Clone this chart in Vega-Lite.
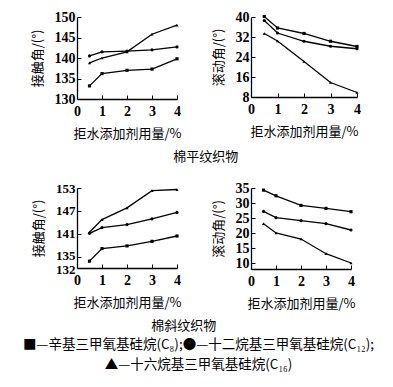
{
  "$schema": "https://vega.github.io/schema/vega-lite/v6.json",
  "padding": {"left": 12, "top": 10, "right": 5, "bottom": 5},
  "datasets": {
    "d": [
      {"p": "a", "s": "C8", "x": 0.5, "y": 133.2}, {"p": "a", "s": "C8", "x": 1, "y": 136.2}, {"p": "a", "s": "C8", "x": 2, "y": 137.0}, {"p": "a", "s": "C8", "x": 3, "y": 137.3}, {"p": "a", "s": "C8", "x": 4, "y": 139.8},
      {"p": "a", "s": "C12", "x": 0.5, "y": 140.5}, {"p": "a", "s": "C12", "x": 1, "y": 141.5}, {"p": "a", "s": "C12", "x": 2, "y": 141.7}, {"p": "a", "s": "C12", "x": 3, "y": 142.0}, {"p": "a", "s": "C12", "x": 4, "y": 142.7},
      {"p": "a", "s": "C16", "x": 0.5, "y": 138.8}, {"p": "a", "s": "C16", "x": 1, "y": 140.0}, {"p": "a", "s": "C16", "x": 2, "y": 141.5}, {"p": "a", "s": "C16", "x": 3, "y": 145.8}, {"p": "a", "s": "C16", "x": 4, "y": 148.0},
      {"p": "b", "s": "C8", "x": 0.5, "y": 40.2}, {"p": "b", "s": "C8", "x": 1, "y": 35.6}, {"p": "b", "s": "C8", "x": 2, "y": 33.4}, {"p": "b", "s": "C8", "x": 3, "y": 30.3}, {"p": "b", "s": "C8", "x": 4, "y": 28.2},
      {"p": "b", "s": "C12", "x": 0.5, "y": 38.6}, {"p": "b", "s": "C12", "x": 1, "y": 33.6}, {"p": "b", "s": "C12", "x": 2, "y": 30.3}, {"p": "b", "s": "C12", "x": 3, "y": 28.3}, {"p": "b", "s": "C12", "x": 4, "y": 27.3},
      {"p": "b", "s": "C16", "x": 0.5, "y": 33.4}, {"p": "b", "s": "C16", "x": 1, "y": 30.4}, {"p": "b", "s": "C16", "x": 2, "y": 22.2}, {"p": "b", "s": "C16", "x": 3, "y": 13.8}, {"p": "b", "s": "C16", "x": 4, "y": 9.8},
      {"p": "c", "s": "C8", "x": 0.5, "y": 133.8}, {"p": "c", "s": "C8", "x": 1, "y": 137.1}, {"p": "c", "s": "C8", "x": 2, "y": 137.8}, {"p": "c", "s": "C8", "x": 3, "y": 139.0}, {"p": "c", "s": "C8", "x": 4, "y": 140.4},
      {"p": "c", "s": "C12", "x": 0.5, "y": 141.1}, {"p": "c", "s": "C12", "x": 1, "y": 142.6}, {"p": "c", "s": "C12", "x": 2, "y": 143.4}, {"p": "c", "s": "C12", "x": 3, "y": 144.9}, {"p": "c", "s": "C12", "x": 4, "y": 146.6},
      {"p": "c", "s": "C16", "x": 0.5, "y": 141.4}, {"p": "c", "s": "C16", "x": 1, "y": 144.7}, {"p": "c", "s": "C16", "x": 2, "y": 147.8}, {"p": "c", "s": "C16", "x": 3, "y": 152.3}, {"p": "c", "s": "C16", "x": 4, "y": 152.6},
      {"p": "d", "s": "C8", "x": 0.5, "y": 34.3}, {"p": "d", "s": "C8", "x": 1, "y": 32.4}, {"p": "d", "s": "C8", "x": 2, "y": 29.2}, {"p": "d", "s": "C8", "x": 3, "y": 28.2}, {"p": "d", "s": "C8", "x": 4, "y": 27.1},
      {"p": "d", "s": "C12", "x": 0.5, "y": 27.2}, {"p": "d", "s": "C12", "x": 1, "y": 25.1}, {"p": "d", "s": "C12", "x": 2, "y": 24.1}, {"p": "d", "s": "C12", "x": 3, "y": 23.1}, {"p": "d", "s": "C12", "x": 4, "y": 21.0},
      {"p": "d", "s": "C16", "x": 0.5, "y": 23.1}, {"p": "d", "s": "C16", "x": 1, "y": 20.0}, {"p": "d", "s": "C16", "x": 2, "y": 18.0}, {"p": "d", "s": "C16", "x": 3, "y": 13.1}, {"p": "d", "s": "C16", "x": 4, "y": 10.0}
    ]
  },
  "title": {
    "text": ["■—辛基三甲氧基硅烷(C₈);●—十二烷基三甲氧基硅烷(C₁₂);", "▲—十六烷基三甲氧基硅烷(C₁₆)"],
    "orient": "bottom",
    "anchor": "middle",
    "font": "Noto Sans CJK SC",
    "fontSize": 13.5,
    "fontWeight": "normal",
    "color": "black",
    "lineHeight": 20,
    "offset": 5,
    "dx": 12
  },
  "spacing": 17,
  "vconcat": [
    {
      "title": {"text": "棉平纹织物", "orient": "bottom", "anchor": "middle", "font": "Noto Sans CJK SC", "fontSize": 13, "fontWeight": "normal", "color": "black", "offset": 11, "dx": 10},
      "spacing": 30,
      "resolve": {"scale": {"y": "independent"}},
      "hconcat": [
        {
          "width": 100, "height": 82,
          "data": {"name": "d"},
          "transform": [{"filter": "datum.p == 'a'"}],
          "encoding": {
            "x": {"field": "x", "type": "quantitative", "scale": {"domain": [0, 4], "nice": false}, "axis": {"values": [0, 1, 2, 3, 4], "title": "拒水添加剂用量/%"}},
            "y": {"field": "y", "type": "quantitative", "scale": {"domain": [130, 150], "nice": false, "zero": false}, "axis": {"values": [130, 135, 140, 145, 150], "title": "接触角/(°)"}}
          },
          "layer": [
            {"mark": {"type": "line", "color": "black", "strokeWidth": 1.3}, "encoding": {"detail": {"field": "s"}}},
            {"mark": {"type": "point", "filled": true, "color": "black", "size": 10, "opacity": 1}, "encoding": {"shape": {"field": "s", "legend": null, "scale": {"domain": ["C8", "C12", "C16"], "range": ["square", "circle", "triangle-up"]}}}}
          ]
        },
        {
          "width": 106, "height": 80,
          "data": {"name": "d"},
          "transform": [{"filter": "datum.p == 'b'"}],
          "encoding": {
            "x": {"field": "x", "type": "quantitative", "scale": {"domain": [0, 4], "nice": false}, "axis": {"values": [0, 1, 2, 3, 4], "title": "拒水添加剂用量/%"}},
            "y": {"field": "y", "type": "quantitative", "scale": {"domain": [8, 40], "nice": false, "zero": false}, "axis": {"values": [8, 16, 24, 32, 40], "title": "滚动角/(°)"}}
          },
          "layer": [
            {"mark": {"type": "line", "color": "black", "strokeWidth": 1.3}, "encoding": {"detail": {"field": "s"}}},
            {"mark": {"type": "point", "filled": true, "color": "black", "size": 10, "opacity": 1}, "encoding": {"shape": {"field": "s", "legend": null, "scale": {"domain": ["C8", "C12", "C16"], "range": ["square", "circle", "triangle-up"]}}}}
          ]
        }
      ]
    },
    {
      "title": {"text": "棉斜纹织物", "orient": "bottom", "anchor": "middle", "font": "Noto Sans CJK SC", "fontSize": 13, "fontWeight": "normal", "color": "black", "offset": 10, "dx": 0},
      "spacing": 30,
      "resolve": {"scale": {"y": "independent"}},
      "hconcat": [
        {
          "width": 100, "height": 80,
          "title": {"text": " ", "orient": "left", "fontSize": 14, "offset": 6},
          "data": {"name": "d"},
          "transform": [{"filter": "datum.p == 'c'"}],
          "encoding": {
            "x": {"field": "x", "type": "quantitative", "scale": {"domain": [0, 4], "nice": false}, "axis": {"values": [0, 1, 2, 3, 4], "title": "拒水添加剂用量/%"}},
            "y": {"field": "y", "type": "quantitative", "scale": {"domain": [132, 153], "nice": false, "zero": false}, "axis": {"values": [132, 135, 141, 147, 153], "title": "接触角/(°)", "labelFontSize": 13, "labelOffset": {"condition": [{"test": "datum.value == 132", "value": 1.5}, {"test": "datum.value == 135", "value": -1.5}], "value": 0}}}
          },
          "layer": [
            {"mark": {"type": "line", "color": "black", "strokeWidth": 1.3}, "encoding": {"detail": {"field": "s"}}},
            {"mark": {"type": "point", "filled": true, "color": "black", "size": 10, "opacity": 1}, "encoding": {"shape": {"field": "s", "legend": null, "scale": {"domain": ["C8", "C12", "C16"], "range": ["square", "circle", "triangle-up"]}}}}
          ]
        },
        {
          "width": 100, "height": 81,
          "data": {"name": "d"},
          "transform": [{"filter": "datum.p == 'd'"}],
          "encoding": {
            "x": {"field": "x", "type": "quantitative", "scale": {"domain": [0, 4], "nice": false}, "axis": {"values": [0, 1, 2, 3, 4], "title": "拒水添加剂用量/%"}},
            "y": {"field": "y", "type": "quantitative", "scale": {"domain": [8, 35], "nice": false, "zero": false}, "axis": {"values": [10, 15, 20, 25, 30, 35], "title": "滚动角/(°)"}}
          },
          "layer": [
            {"mark": {"type": "line", "color": "black", "strokeWidth": 1.3}, "encoding": {"detail": {"field": "s"}}},
            {"mark": {"type": "point", "filled": true, "color": "black", "size": 10, "opacity": 1}, "encoding": {"shape": {"field": "s", "legend": null, "scale": {"domain": ["C8", "C12", "C16"], "range": ["square", "circle", "triangle-up"]}}}}
          ]
        }
      ]
    }
  ],
  "config": {
    "view": {"stroke": null},
    "axis": {
      "grid": false,
      "domainColor": "black",
      "domainWidth": 1.3,
      "tickColor": "black",
      "tickSize": -4,
      "labelColor": "black",
      "labelFont": "Liberation Serif",
      "labelFontSize": 14,
      "labelFontWeight": "bold",
      "labelPadding": 6,
      "labelFlush": false,
      "labelOverlap": false,
      "titleColor": "black",
      "titleFont": "Noto Sans CJK SC",
      "titleFontSize": 13,
      "titleFontWeight": "normal"
    },
    "axisY": {"titlePadding": 10},
    "axisX": {"titlePadding": 9, "labelPadding": 9}
  }
}
